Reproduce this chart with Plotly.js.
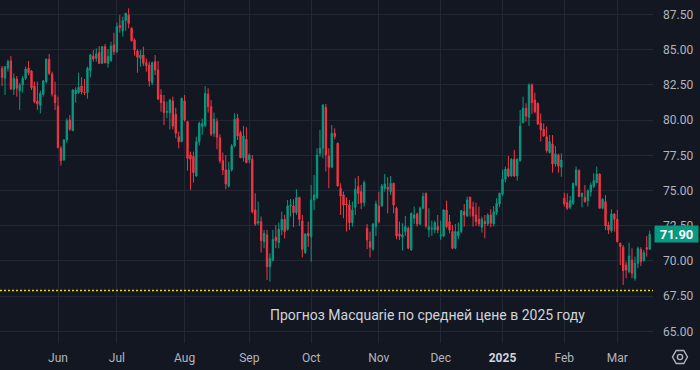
<!DOCTYPE html>
<html><head><meta charset="utf-8">
<script src="https://cdn.plot.ly/plotly-3.0.1.min.js"></script>
<style>html,body{margin:0;padding:0;background:#131722;overflow:hidden}#chart{width:700px;height:370px}</style>
</head><body><div id="chart"></div>
<script>
// Month labels and number of daily bars in each month (May 2024 .. Mar 2025)
const monthLabels = ['May','Jun','Jul','Aug','Sep','Oct','Nov','Dec','2025','Feb','Mar'];
const monthBars = [19,20,23,22,21,23,21,21,21,18,12];

const open = [
83.68,82.97,83.68,84.20,82.19,82.92,82.09,82.49,82.97,83.68,
83.49,82.42,81.36,81.05,81.83,82.73,84.32,83.28,81.78,81.00,
78.00,77.17,78.59,80.01,79.25,81.86,81.95,82.42,82.00,81.95,
83.51,84.55,84.39,84.79,84.03,85.22,84.03,84.22,85.34,84.86,
86.71,86.35,87.06,87.46,86.52,85.69,84.91,84.39,84.62,84.08,
83.91,82.66,84.15,83.56,81.78,81.31,80.55,80.53,81.36,80.41,
78.82,78.47,81.36,79.89,77.53,77.41,76.03,78.47,79.55,79.60,
81.85,80.97,79.06,79.89,78.75,77.12,76.46,75.32,76.46,78.16,
80.13,79.11,77.33,78.64,77.17,77.22,73.62,72.69,72.79,71.37,
71.84,69.59,70.02,71.68,71.30,72.20,72.95,72.24,73.90,73.90,
73.43,74.50,72.84,70.60,71.96,71.72,74.33,74.50,77.64,78.00,
80.91,77.45,76.65,79.06,78.35,75.16,74.68,74.04,73.97,72.72,
73.81,75.28,74.92,74.14,72.32,71.37,70.83,72.43,73.90,73.90,
75.16,75.23,74.92,75.51,73.74,71.91,71.68,72.08,72.32,70.78,
73.03,73.33,72.62,73.74,74.80,72.20,72.27,72.20,72.44,71.77,
71.77,73.62,72.79,72.08,70.90,71.77,72.08,73.50,73.19,74.52,
73.81,73.26,72.96,72.39,72.79,72.63,73.26,72.63,73.43,74.04,
74.73,75.80,76.55,76.03,77.22,76.03,77.12,79.82,80.84,80.20,
82.50,81.43,81.19,79.77,79.35,78.82,77.69,78.30,76.88,77.52,
76.65,74.45,74.14,73.81,74.09,75.40,76.41,74.57,74.52,74.28,
74.92,75.28,75.56,76.17,73.74,74.21,72.55,72.15,73.33,72.96,
71.25,70.97,69.71,69.24,70.07,68.75,69.83,70.83,70.02,70.95,
70.83];
const high = [
83.84,83.80,84.32,84.55,83.32,83.13,82.66,83.13,83.80,84.20,
83.55,82.73,82.73,82.09,82.85,84.39,84.70,83.44,82.73,81.67,
78.16,78.64,80.13,80.36,82.19,82.33,83.37,83.04,82.92,83.80,
84.70,84.98,85.10,85.26,85.26,85.41,85.05,85.57,86.21,86.92,
87.46,87.35,87.63,87.94,86.60,85.81,85.03,84.98,85.22,84.39,
84.15,84.15,84.62,84.20,82.19,81.78,81.31,81.52,81.67,80.88,
79.18,81.60,81.78,79.94,77.76,77.76,78.82,79.89,80.10,82.42,
82.26,81.43,80.53,80.13,79.00,77.69,77.52,77.05,78.30,80.48,
80.44,79.25,79.58,79.49,77.64,77.52,74.80,74.21,73.15,72.20,
72.20,70.54,72.20,72.55,72.72,73.50,73.27,74.33,74.40,74.38,
75.09,74.55,73.27,71.96,72.79,75.40,76.10,78.00,79.30,81.15,
81.15,78.00,79.65,79.42,78.40,75.51,74.92,74.52,74.33,74.21,
75.87,76.03,75.40,75.70,72.62,72.08,72.67,74.28,74.92,75.46,
76.17,75.94,76.03,75.55,73.86,72.79,72.67,73.19,72.44,73.43,
73.86,73.43,73.86,74.85,74.85,73.74,72.86,72.86,73.26,72.86,
73.67,74.28,73.26,72.55,72.62,72.72,73.62,74.04,74.57,74.57,
74.21,74.14,73.86,73.14,73.26,73.38,73.67,73.90,74.45,74.85,
76.50,76.70,77.45,77.29,77.88,77.29,80.72,81.67,81.19,82.61,
82.61,81.95,81.24,80.48,79.77,79.54,78.94,78.94,78.16,77.64,
77.64,74.85,74.80,74.61,75.56,76.70,76.50,74.85,75.39,75.09,
75.56,76.22,76.70,76.22,74.45,74.68,72.79,73.67,73.38,73.62,
71.30,71.13,69.95,71.30,70.90,70.30,71.02,70.97,70.78,71.77,
72.15];
const low = [
82.42,81.78,83.44,82.14,81.78,81.67,80.72,81.95,82.85,83.20,
82.14,81.19,80.72,80.48,81.67,82.61,83.20,81.67,80.72,78.00,
76.77,77.12,78.40,79.25,79.25,81.24,81.86,81.83,81.78,81.52,
83.04,84.15,84.15,83.98,83.98,84.03,83.73,84.15,84.62,84.74,
86.21,85.93,86.35,86.52,85.57,84.58,83.37,83.80,83.84,83.44,
82.38,82.49,83.20,81.43,80.60,79.65,80.13,79.34,79.34,78.71,
78.00,78.47,79.89,76.41,75.04,75.56,75.98,78.20,78.95,79.50,
80.53,78.87,78.82,77.93,76.93,76.10,75.09,75.20,76.34,78.07,
78.59,77.29,77.05,76.93,76.93,73.38,72.48,72.55,70.59,70.90,
68.65,68.53,70.00,70.90,70.90,71.84,71.60,72.15,73.15,72.39,
73.27,72.48,70.25,70.49,71.00,69.95,73.62,74.40,77.40,77.29,
76.34,75.16,76.58,78.64,75.28,73.26,73.03,72.08,72.20,72.43,
73.26,74.04,73.67,73.86,70.83,70.25,70.73,71.77,72.67,73.86,
74.92,73.38,74.68,73.38,71.54,71.49,70.73,71.77,70.83,70.73,
72.62,72.44,72.55,73.67,72.32,71.68,71.77,71.96,71.96,71.49,
71.68,72.32,71.96,70.83,70.83,71.54,71.96,72.44,73.14,73.14,
72.44,72.48,72.44,72.01,71.61,72.48,72.39,72.44,73.26,73.81,
74.60,75.56,75.94,75.98,75.98,75.70,77.05,79.77,79.89,79.58,
80.44,80.48,79.65,78.47,78.82,77.69,77.64,76.27,76.70,76.27,
75.98,73.86,73.62,73.67,73.97,75.28,74.52,73.81,74.14,73.86,
74.57,75.16,75.51,73.74,73.67,72.20,71.91,72.01,72.08,71.30,
69.71,68.29,68.77,69.12,68.77,68.60,69.48,69.64,69.95,70.30,
70.78];
const close = [
83.04,83.80,84.15,82.21,82.97,82.26,82.49,82.97,83.63,83.37,
82.30,81.31,81.15,81.90,82.78,84.32,83.32,81.86,81.24,78.04,
77.12,78.59,79.96,79.35,82.14,82.14,82.33,82.00,81.95,83.68,
84.62,84.34,84.70,84.03,85.22,84.08,84.51,85.26,84.86,86.64,
86.59,87.06,87.58,86.87,85.64,84.98,84.46,84.62,84.03,83.87,
82.78,84.08,83.56,81.50,81.24,80.53,80.62,81.43,79.58,79.06,
78.47,81.55,80.01,77.29,77.22,76.27,78.47,79.77,79.75,81.90,
80.95,79.00,80.06,78.78,77.12,76.46,75.46,76.46,78.16,80.06,
78.87,77.33,78.87,76.98,77.52,73.50,72.62,72.80,71.44,71.96,
69.59,70.19,71.53,71.44,72.24,72.95,72.08,73.90,73.95,73.43,
74.50,72.95,70.83,71.91,71.77,74.33,74.68,77.52,78.00,81.07,
77.52,76.65,79.06,78.83,75.32,74.61,73.97,73.97,72.72,73.62,
75.09,74.80,74.14,75.56,71.49,70.97,72.62,74.04,72.79,75.32,
75.46,75.09,75.51,73.97,71.77,71.77,71.84,72.44,70.90,73.38,
73.26,72.62,73.74,74.57,72.48,72.44,72.32,72.72,72.20,71.84,
73.62,72.44,72.20,70.90,72.08,72.08,73.57,73.26,74.33,73.74,
73.19,72.79,72.63,72.96,72.63,73.26,72.67,73.50,74.09,74.80,
75.80,76.51,76.03,77.22,76.03,77.22,79.58,80.84,80.29,82.50,
81.24,80.60,79.73,79.30,78.87,77.83,78.47,76.88,77.60,76.74,
77.17,74.05,73.74,74.28,75.51,76.46,74.57,74.80,74.21,74.97,
75.39,75.70,76.17,73.74,74.38,72.48,72.20,73.33,72.96,71.37,
71.02,69.31,69.36,70.35,69.12,69.85,70.90,69.95,70.59,70.83,
71.90];

const forecastLevel = 67.9;
const forecastLabel = 'Прогноз Macquarie по средней цене в 2025 году';
const lastPrice = close[close.length - 1];

const UP = '#089981', DOWN = '#f23645', BG = '#131722', GRID = '#232733', TXT = '#b2b5be';

// bar index as x; month ticks at first bar of each month
const x = open.map((_, i) => i);
const tickvals = [], ticktext = [];
let start = 0;
monthBars.forEach((n, k) => {
  if (k > 0) {
    tickvals.push(start);
    ticktext.push(monthLabels[k] === '2025' ? '<b><span style="color:#d1d4dc">2025</span></b>' : monthLabels[k]);
  }
  start += n;
});

const trace = {
  type: 'candlestick', x, open, high, low, close,
  increasing: {line: {color: UP, width: 1}, fillcolor: UP},
  decreasing: {line: {color: DOWN, width: 1}, fillcolor: DOWN},
  whiskerwidth: 0, hoverinfo: 'none'
};

// settings icon (hexagon + circle) below the price scale
const W = 653, H = 343, cx = 680, cy = 357, R = 7.5;
let hex = '';
for (let k = 0; k < 6; k++) {
  const a = Math.PI / 3 * k;
  const px = (cx + R * Math.cos(a)) / W, py = (H - (cy + R * Math.sin(a))) / H;
  hex += (k === 0 ? 'M' : 'L') + px.toFixed(5) + ',' + py.toFixed(5) + ' ';
}
hex += 'Z';
const r = 2.6;

const layout = {
  width: 700, height: 370,
  margin: {l: 0, r: 47, t: 0, b: 27, pad: 0},
  paper_bgcolor: BG, plot_bgcolor: BG, showlegend: false,
  font: {family: 'Roboto, sans-serif', size: 12, color: TXT},
  boxgap: 0.35,
  xaxis: {
    type: 'linear', range: [-0.703, 221.13], tickvals, ticktext,
    showgrid: true, gridcolor: GRID, gridwidth: 1, zeroline: false, showline: false,
    ticks: '', ticklabelstandoff: 6, rangeslider: {visible: false}, fixedrange: true
  },
  yaxis: {
    side: 'right', range: [64.17, 88.53], tick0: 0, dtick: 2.5, tickformat: '.2f',
    showgrid: true, gridcolor: GRID, gridwidth: 1, zeroline: false, showline: false,
    ticks: '', ticklabelstandoff: 9, fixedrange: true
  },
  shapes: [
    {type: 'line', xref: 'paper', x0: 0, x1: 1, yref: 'y', y0: forecastLevel, y1: forecastLevel,
     line: {color: '#e8d41c', width: 1.5, dash: '2px,2px'}},
    {type: 'path', xref: 'paper', yref: 'paper', path: hex, line: {color: TXT, width: 1.4}},
    {type: 'circle', xref: 'paper', yref: 'paper', x0: (cx - r) / W, x1: (cx + r) / W,
     y0: (H - cy - r) / H, y1: (H - cy + r) / H, line: {color: TXT, width: 1.4}}
  ],
  annotations: [
    {text: forecastLabel, xref: 'paper', x: 427 / W, yref: 'y', y: 66.16, showarrow: false,
     font: {size: 14, color: '#d1d4dc'}},
    {text: '<b>' + lastPrice.toFixed(2) + '</b>', xref: 'paper', x: 1, xanchor: 'left', xshift: 1,
     yref: 'y', y: lastPrice, yanchor: 'middle', showarrow: false,
     bgcolor: UP, font: {color: '#ffffff', size: 13}, width: 39, height: 12, borderpad: 2}
  ]
};

Plotly.newPlot('chart', [trace], layout, {staticPlot: true, displayModeBar: false});
</script></body></html>
